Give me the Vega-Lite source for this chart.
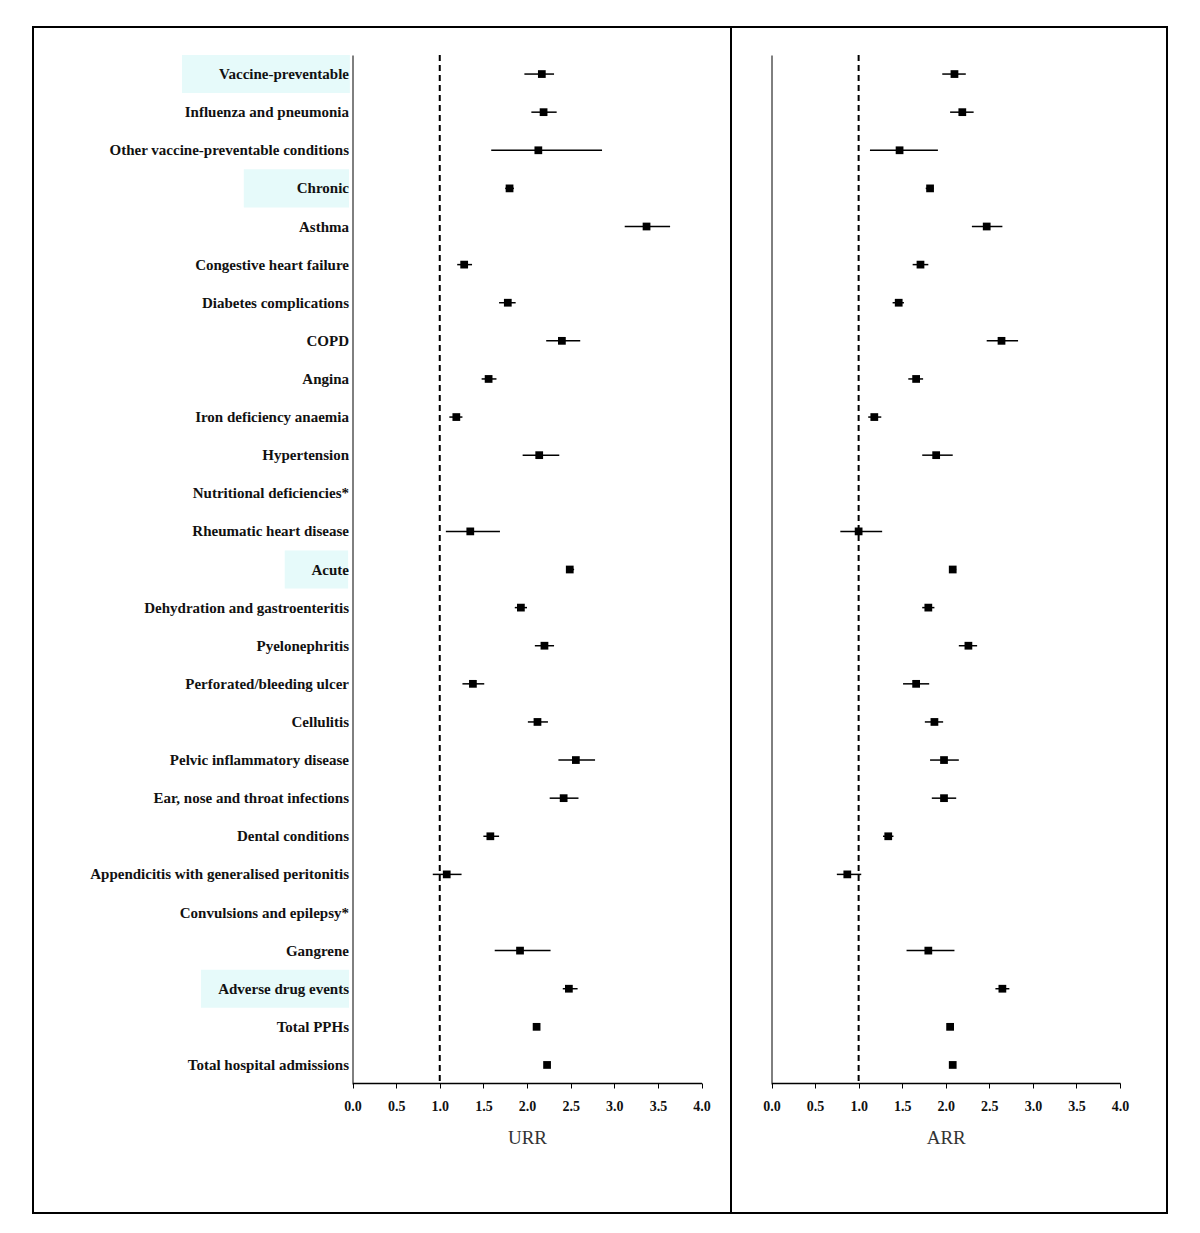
{
  "$schema": "https://vega.github.io/schema/vega-lite/v6.json",
  "padding": {"left": 32, "top": 26, "right": 0, "bottom": 0},
  "background": "white",
  "bounds": "flush",
  "spacing": 0,
  "config": {"view": {"stroke": "#000", "strokeWidth": 2}, "font": "Liberation Serif"},
  "datasets": {
    "rr": [
      {"label": "Vaccine-preventable", "urr": 2.17, "urr_lo": 1.97, "urr_hi": 2.31, "arr": 2.10, "arr_lo": 1.96, "arr_hi": 2.23},
      {"label": "Influenza and pneumonia", "urr": 2.19, "urr_lo": 2.05, "urr_hi": 2.34, "arr": 2.19, "arr_lo": 2.05, "arr_hi": 2.32},
      {"label": "Other vaccine-preventable conditions", "urr": 2.13, "urr_lo": 1.59, "urr_hi": 2.86, "arr": 1.47, "arr_lo": 1.13, "arr_hi": 1.91},
      {"label": "Chronic", "urr": 1.80, "urr_lo": 1.75, "urr_hi": 1.85, "arr": 1.82, "arr_lo": 1.77, "arr_hi": 1.86},
      {"label": "Asthma", "urr": 3.37, "urr_lo": 3.12, "urr_hi": 3.64, "arr": 2.47, "arr_lo": 2.30, "arr_hi": 2.65},
      {"label": "Congestive heart failure", "urr": 1.28, "urr_lo": 1.20, "urr_hi": 1.37, "arr": 1.71, "arr_lo": 1.62, "arr_hi": 1.80},
      {"label": "Diabetes complications", "urr": 1.78, "urr_lo": 1.68, "urr_hi": 1.87, "arr": 1.46, "arr_lo": 1.39, "arr_hi": 1.52},
      {"label": "COPD", "urr": 2.40, "urr_lo": 2.22, "urr_hi": 2.61, "arr": 2.64, "arr_lo": 2.47, "arr_hi": 2.83},
      {"label": "Angina", "urr": 1.56, "urr_lo": 1.48, "urr_hi": 1.65, "arr": 1.66, "arr_lo": 1.57, "arr_hi": 1.74},
      {"label": "Iron deficiency anaemia", "urr": 1.19, "urr_lo": 1.11, "urr_hi": 1.26, "arr": 1.18, "arr_lo": 1.11, "arr_hi": 1.26},
      {"label": "Hypertension", "urr": 2.14, "urr_lo": 1.95, "urr_hi": 2.37, "arr": 1.89, "arr_lo": 1.73, "arr_hi": 2.08},
      {"label": "Nutritional deficiencies*", "urr": null, "urr_lo": null, "urr_hi": null, "arr": null, "arr_lo": null, "arr_hi": null},
      {"label": "Rheumatic heart disease", "urr": 1.35, "urr_lo": 1.07, "urr_hi": 1.69, "arr": 1.00, "arr_lo": 0.79, "arr_hi": 1.27},
      {"label": "Acute", "urr": 2.49, "urr_lo": 2.45, "urr_hi": 2.54, "arr": 2.08, "arr_lo": 2.04, "arr_hi": 2.12},
      {"label": "Dehydration and gastroenteritis", "urr": 1.93, "urr_lo": 1.86, "urr_hi": 2.00, "arr": 1.80, "arr_lo": 1.73, "arr_hi": 1.87},
      {"label": "Pyelonephritis", "urr": 2.20, "urr_lo": 2.09, "urr_hi": 2.31, "arr": 2.26, "arr_lo": 2.15, "arr_hi": 2.36},
      {"label": "Perforated/bleeding ulcer", "urr": 1.38, "urr_lo": 1.26, "urr_hi": 1.51, "arr": 1.66, "arr_lo": 1.51, "arr_hi": 1.81},
      {"label": "Cellulitis", "urr": 2.12, "urr_lo": 2.01, "urr_hi": 2.24, "arr": 1.87, "arr_lo": 1.76, "arr_hi": 1.97},
      {"label": "Pelvic inflammatory disease", "urr": 2.56, "urr_lo": 2.36, "urr_hi": 2.78, "arr": 1.98, "arr_lo": 1.82, "arr_hi": 2.15},
      {"label": "Ear, nose and throat infections", "urr": 2.42, "urr_lo": 2.26, "urr_hi": 2.59, "arr": 1.98, "arr_lo": 1.84, "arr_hi": 2.12},
      {"label": "Dental conditions", "urr": 1.58, "urr_lo": 1.50, "urr_hi": 1.68, "arr": 1.34, "arr_lo": 1.28, "arr_hi": 1.40},
      {"label": "Appendicitis with generalised peritonitis", "urr": 1.08, "urr_lo": 0.92, "urr_hi": 1.25, "arr": 0.87, "arr_lo": 0.75, "arr_hi": 1.03},
      {"label": "Convulsions and epilepsy*", "urr": null, "urr_lo": null, "urr_hi": null, "arr": null, "arr_lo": null, "arr_hi": null},
      {"label": "Gangrene", "urr": 1.92, "urr_lo": 1.63, "urr_hi": 2.27, "arr": 1.80, "arr_lo": 1.55, "arr_hi": 2.10},
      {"label": "Adverse drug events", "urr": 2.48, "urr_lo": 2.41, "urr_hi": 2.58, "arr": 2.65, "arr_lo": 2.57, "arr_hi": 2.73},
      {"label": "Total PPHs", "urr": 2.11, "urr_lo": 2.08, "urr_hi": 2.14, "arr": 2.05, "arr_lo": null, "arr_hi": null},
      {"label": "Total hospital admissions", "urr": 2.23, "urr_lo": null, "urr_hi": null, "arr": 2.08, "arr_lo": null, "arr_hi": null}
    ]
  },
  "hconcat": [
    {
      "width": 698,
      "height": 1186,
      "data": {"name": "rr"},
      "layer": [
        {
          "transform": [{"filter": "datum.label === 'Vaccine-preventable'"}],
          "mark": {"type": "rect", "color": "#e6fafa"},
          "encoding": {
            "x": {"datum": -1.954, "type": "quantitative"},
            "x2": {"datum": -0.03},
            "y": {"field": "label", "type": "nominal"}
          }
        },
        {
          "transform": [{"filter": "datum.label === 'Chronic'"}],
          "mark": {"type": "rect", "color": "#e6fafa"},
          "encoding": {
            "x": {"datum": -1.246, "type": "quantitative"},
            "x2": {"datum": -0.04},
            "y": {"field": "label", "type": "nominal"}
          }
        },
        {
          "transform": [{"filter": "datum.label === 'Acute'"}],
          "mark": {"type": "rect", "color": "#e6fafa"},
          "encoding": {
            "x": {"datum": -0.777, "type": "quantitative"},
            "x2": {"datum": -0.05},
            "y": {"field": "label", "type": "nominal"}
          }
        },
        {
          "transform": [{"filter": "datum.label === 'Adverse drug events'"}],
          "mark": {"type": "rect", "color": "#e6fafa"},
          "encoding": {
            "x": {"datum": -1.737, "type": "quantitative"},
            "x2": {"datum": -0.04},
            "y": {"field": "label", "type": "nominal"}
          }
        },
        {
          "data": {"values": [{}]},
          "mark": {"type": "rule", "strokeDash": [6, 4], "strokeWidth": 2, "color": "#000"},
          "encoding": {
            "x": {"datum": 1, "type": "quantitative"},
            "y": {"datum": "Vaccine-preventable", "type": "nominal", "bandPosition": 0},
            "y2": {"datum": "Total hospital admissions", "bandPosition": 1}
          }
        },
        {
          "mark": {"type": "rule", "color": "#000", "strokeWidth": 1.5},
          "encoding": {
            "x": {"field": "urr_lo", "type": "quantitative"},
            "x2": {"field": "urr_hi"},
            "y": {"field": "label", "type": "nominal"}
          }
        },
        {
          "mark": {"type": "point", "shape": "square", "filled": true, "size": 60, "color": "#000", "opacity": 1},
          "encoding": {
            "x": {
              "field": "urr", "type": "quantitative",
              "scale": {"domain": [0, 4], "range": [319.5, 668.5], "nice": false, "zero": false},
              "axis": {
                "orient": "bottom", "offset": -130,
                "values": [0, 0.5, 1, 1.5, 2, 2.5, 3, 3.5, 4], "format": ".1f",
                "title": "URR", "titleFont": "Liberation Serif", "titleFontWeight": "normal", "titleFontSize": 19, "titleColor": "#333", "titlePadding": 15,
                "labelFont": "Liberation Serif", "labelFontWeight": "bold", "labelFontSize": 14, "labelColor": "#111", "labelPadding": 11,
                "tickSize": 5, "tickColor": "#000", "domainColor": "#000", "domainWidth": 1.5, "grid": false, "labelFlush": false
              }
            },
            "y": {
              "field": "label", "type": "nominal",
              "scale": {
                "domain": ["Vaccine-preventable", "Influenza and pneumonia", "Other vaccine-preventable conditions", "Chronic", "Asthma", "Congestive heart failure", "Diabetes complications", "COPD", "Angina", "Iron deficiency anaemia", "Hypertension", "Nutritional deficiencies*", "Rheumatic heart disease", "Acute", "Dehydration and gastroenteritis", "Pyelonephritis", "Perforated/bleeding ulcer", "Cellulitis", "Pelvic inflammatory disease", "Ear, nose and throat infections", "Dental conditions", "Appendicitis with generalised peritonitis", "Convulsions and epilepsy*", "Gangrene", "Adverse drug events", "Total PPHs", "Total hospital admissions"],
                "range": [28, 1057], "paddingInner": 0, "paddingOuter": 0
              },
              "axis": {
                "orient": "left", "offset": -319.5, "title": null, "ticks": false,
                "labelFont": "Liberation Serif", "labelFontWeight": "bold", "labelFontSize": 15, "labelColor": "#111",
                "labelPadding": 4, "labelLimit": 400, "domainColor": "#000", "domainWidth": 1, "grid": false
              }
            }
          }
        }
      ]
    },
    {
      "width": 436,
      "height": 1186,
      "data": {"name": "rr"},
      "layer": [
        {
          "data": {"values": [{}]},
          "mark": {"type": "rule", "strokeDash": [6, 4], "strokeWidth": 2, "color": "#000"},
          "encoding": {
            "x": {"datum": 1, "type": "quantitative"},
            "y": {"datum": "Vaccine-preventable", "type": "nominal", "bandPosition": 0},
            "y2": {"datum": "Total hospital admissions", "bandPosition": 1}
          }
        },
        {
          "mark": {"type": "rule", "color": "#000", "strokeWidth": 1.5},
          "encoding": {
            "x": {"field": "arr_lo", "type": "quantitative"},
            "x2": {"field": "arr_hi"},
            "y": {"field": "label", "type": "nominal"}
          }
        },
        {
          "mark": {"type": "point", "shape": "square", "filled": true, "size": 60, "color": "#000", "opacity": 1},
          "encoding": {
            "x": {
              "field": "arr", "type": "quantitative",
              "scale": {"domain": [0, 4], "range": [40.5, 389], "nice": false, "zero": false},
              "axis": {
                "orient": "bottom", "offset": -130,
                "values": [0, 0.5, 1, 1.5, 2, 2.5, 3, 3.5, 4], "format": ".1f",
                "title": "ARR", "titleFont": "Liberation Serif", "titleFontWeight": "normal", "titleFontSize": 19, "titleColor": "#333", "titlePadding": 15,
                "labelFont": "Liberation Serif", "labelFontWeight": "bold", "labelFontSize": 14, "labelColor": "#111", "labelPadding": 11,
                "tickSize": 5, "tickColor": "#000", "domainColor": "#000", "domainWidth": 1.5, "grid": false, "labelFlush": false
              }
            },
            "y": {
              "field": "label", "type": "nominal",
              "scale": {
                "domain": ["Vaccine-preventable", "Influenza and pneumonia", "Other vaccine-preventable conditions", "Chronic", "Asthma", "Congestive heart failure", "Diabetes complications", "COPD", "Angina", "Iron deficiency anaemia", "Hypertension", "Nutritional deficiencies*", "Rheumatic heart disease", "Acute", "Dehydration and gastroenteritis", "Pyelonephritis", "Perforated/bleeding ulcer", "Cellulitis", "Pelvic inflammatory disease", "Ear, nose and throat infections", "Dental conditions", "Appendicitis with generalised peritonitis", "Convulsions and epilepsy*", "Gangrene", "Adverse drug events", "Total PPHs", "Total hospital admissions"],
                "range": [28, 1057], "paddingInner": 0, "paddingOuter": 0
              },
              "axis": {
                "orient": "left", "offset": -40.5, "title": null, "ticks": false, "labels": false,
                "domainColor": "#000", "domainWidth": 1, "grid": false
              }
            }
          }
        }
      ]
    }
  ]
}
